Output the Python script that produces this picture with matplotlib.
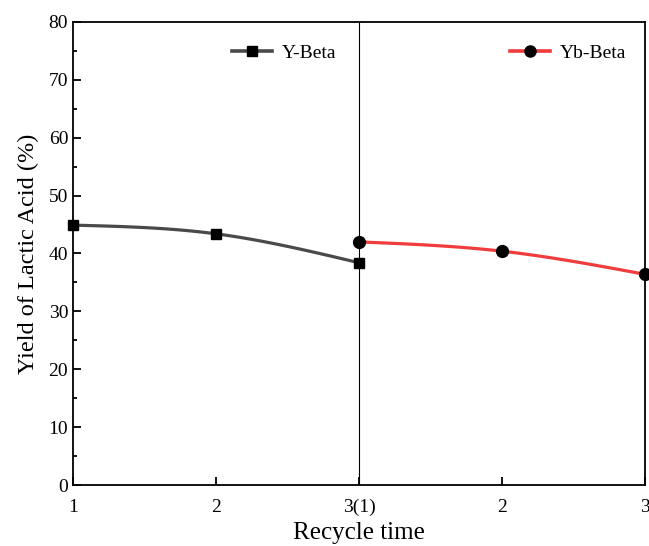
import numpy as np
import matplotlib.pyplot as plt

plt.rcParams['font.family'] = ['Liberation Serif', 'DejaVu Serif']

x_pos = [1, 2, 3, 4, 5]
x_labels = ["1", "2", "3(1)", "2", "3"]

y_beta_x = [1, 2, 3]
y_beta = [44.9, 43.4, 38.4]

yb_beta_x = [3, 4, 5]
yb_beta = [42.0, 40.4, 36.4]


def natural_spline(xs, ys, n=100):
    xs = np.asarray(xs, float)
    ys = np.asarray(ys, float)
    k = len(xs)
    h = np.diff(xs)
    A = np.zeros((k, k))
    b = np.zeros(k)
    A[0, 0] = 1
    A[-1, -1] = 1
    for i in range(1, k - 1):
        A[i, i - 1] = h[i - 1]
        A[i, i] = 2 * (h[i - 1] + h[i])
        A[i, i + 1] = h[i]
        b[i] = 6 * ((ys[i + 1] - ys[i]) / h[i] - (ys[i] - ys[i - 1]) / h[i - 1])
    M = np.linalg.solve(A, b)
    xx = np.linspace(xs[0], xs[-1], n)
    yy = np.empty_like(xx)
    for j, t in enumerate(xx):
        i = min(np.searchsorted(xs, t, side='right') - 1, k - 2)
        a = xs[i + 1] - t
        c = t - xs[i]
        yy[j] = (M[i] * a ** 3 + M[i + 1] * c ** 3) / (6 * h[i]) \
            + (ys[i] / h[i] - M[i] * h[i] / 6) * a \
            + (ys[i + 1] / h[i] - M[i + 1] * h[i] / 6) * c
    return xx, yy


fig = plt.figure(figsize=(6.49, 5.46), dpi=100)
ax = fig.add_axes([73 / 649, 1 - 485 / 546, (645 - 73) / 649, (485 - 22) / 546])

gray = '#4a4a4a'
red = '#f03c3c'

sx, sy = natural_spline(y_beta_x, y_beta)
ax.plot(sx, sy, color=gray, lw=2.3, zorder=2)
ax.plot(y_beta_x, y_beta, 's', color='black', ms=7.5, zorder=3, clip_on=False)

sx, sy = natural_spline(yb_beta_x, yb_beta)
ax.plot(sx, sy, color=red, lw=2.3, zorder=2)
ax.plot(yb_beta_x, yb_beta, 'o', color='black', ms=8.5, zorder=3, clip_on=False)

ax.axvline(3, color='black', lw=0.8, zorder=1)

ax.set_xlim(1, 5)
ax.set_ylim(0, 80)
ax.set_xticks(x_pos)
ax.set_xticklabels(x_labels)
ax.set_yticks(range(0, 81, 10))
ax.set_yticks(range(5, 80, 10), minor=True)
ax.tick_params(direction='in', labelsize=14, width=1.3, length=6)
ax.tick_params(which='minor', direction='in', width=1.3, length=3)
ax.tick_params(axis='x', pad=10)
for s in ax.spines.values():
    s.set_linewidth(1.3)

ax.set_xlabel("Recycle time", fontsize=18, labelpad=4)
ax.set_ylabel("Yield of Lactic Acid (%)", fontsize=17.5, labelpad=7)

h1, = ax.plot([], [], '-s', color=gray, mfc='black', mec='black', lw=2.6, ms=7)
h2, = ax.plot([], [], '-o', color=red, mfc='black', mec='black', lw=2.6, ms=8)
leg1 = ax.legend([h1], ["Y-Beta"], loc='upper left', bbox_to_anchor=(0.247, 0.99),
                 frameon=False, fontsize=14, handlelength=2.05, handletextpad=0.5)
ax.add_artist(leg1)
ax.legend([h2], ["Yb-Beta"], loc='upper left', bbox_to_anchor=(0.733, 0.99),
          frameon=False, fontsize=14, handlelength=2.05, handletextpad=0.5)

fig.savefig("out.png", dpi=100)
